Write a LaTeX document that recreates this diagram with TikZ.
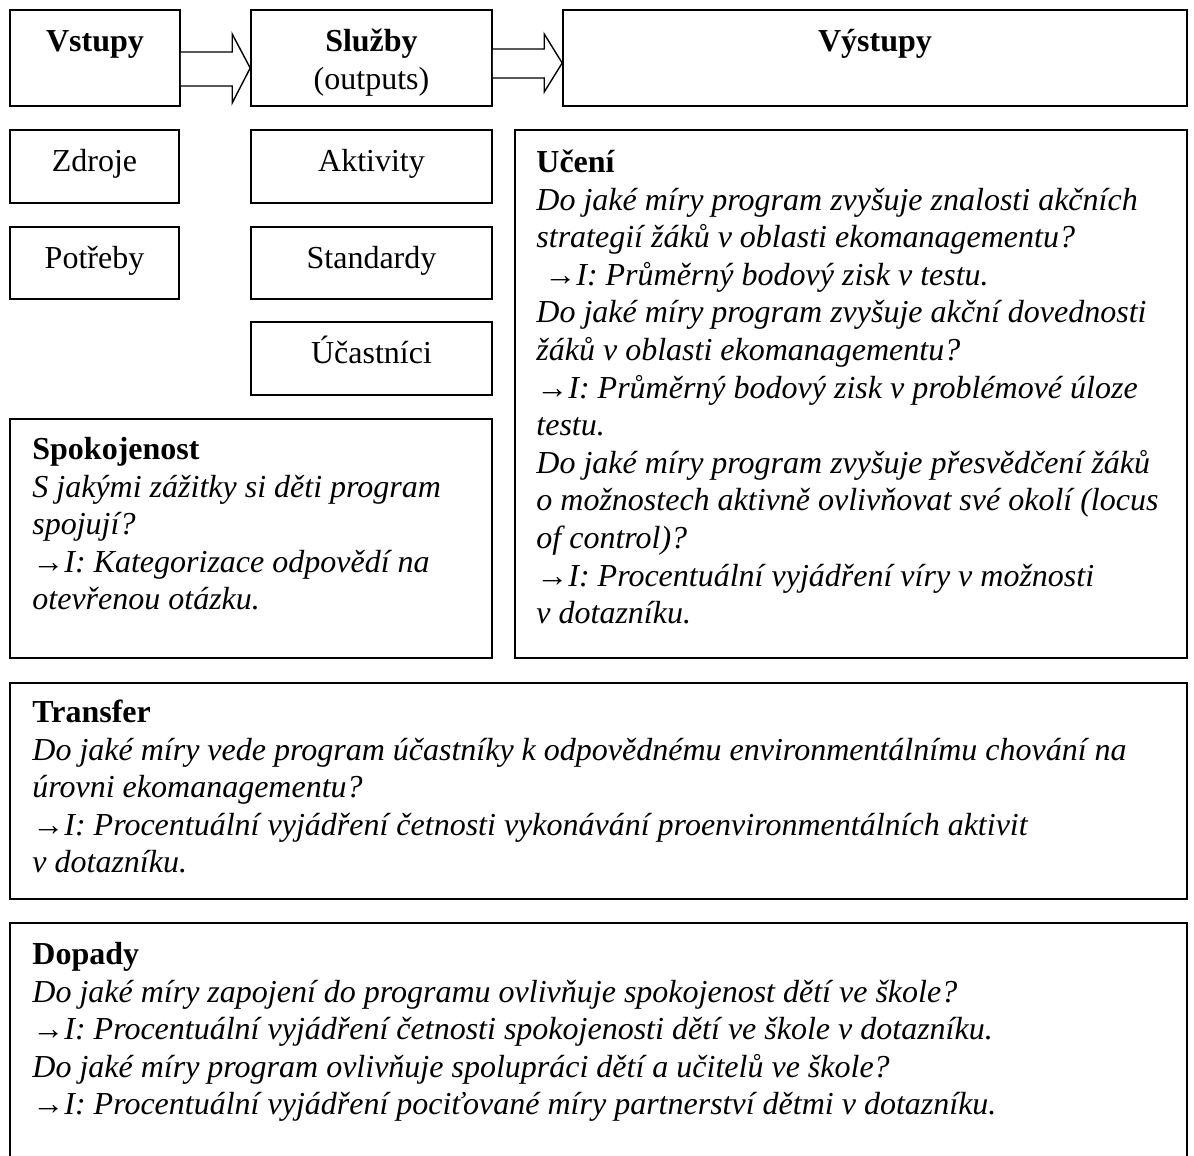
\documentclass[tikz,border=0pt]{standalone}
\usepackage{fontspec}
\setmainfont{Liberation Serif}
\usetikzlibrary{calc}
% zero-width strut fixing the distance from a node's top to its first baseline
\newcommand\tstrut{\rule{0pt}{30pt}}
% upright arrow in front of the indicator lines
\newcommand\indarr{{\upshape →}}

\begin{document}
\begin{tikzpicture}[x=1pt,y=-1pt,
  frame/.style={draw, line width=1.6pt, rectangle, inner sep=0pt},
  size/.style 2 args={minimum width=#1pt, minimum height=#2pt},
  basefont/.style={font=\fontsize{32}{37.6}\selectfont},
  smallbox/.style={frame, basefont, text height=20pt, text depth=10pt},
  head/.style={basefont, inner sep=0pt, anchor=north, align=center},
  body/.style={basefont, inner sep=0pt, anchor=north west, align=left},
  blockarrow/.style={draw, fill=white, line width=1.4pt, line join=miter},
]
\clip (0,0) rectangle (1194,1156);
\fill[white] (0,0) rectangle (1194,1156);

% top row
\node[frame, size={170}{96}] (vstupy)  at (95,58) {};
\node[frame, size={241}{96}] (sluzby)  at (371.5,58) {};
\node[frame, size={624}{96}] (vystupy) at (875,58) {};

\node[head] (tvstupy)  at ($(vstupy.north)+(0,12)$)  {\tstrut\textbf{Vstupy}};
\node[head] (tsluzby)  at ($(sluzby.north)+(0,12)$)  {\tstrut\textbf{Služby}\\(outputs)};
\node[head] (tvystupy) at ($(vystupy.north)+(0,12)$) {\tstrut\textbf{Výstupy}};

% block arrows between the top boxes
\draw[blockarrow]
  ($(vstupy.east)+(0,-6)$) -- ($(sluzby.west)+(-18,-6)$) -- ($(sluzby.west)+(-18,-24)$)
  -- ($(sluzby.west)+(0,10)$) -- ($(sluzby.west)+(-18,45)$) -- ($(sluzby.west)+(-18,28)$)
  -- ($(vstupy.east)+(0,28)$);
\draw[blockarrow]
  ($(sluzby.east)+(0,-9)$) -- ($(vystupy.west)+(-18,-9)$) -- ($(vystupy.west)+(-18,-24)$)
  -- ($(vystupy.west)+(0,5)$) -- ($(vystupy.west)+(-18,34)$) -- ($(vystupy.west)+(-18,20)$)
  -- ($(sluzby.east)+(0,20)$);

% small boxes
\node[smallbox, size={169}{73}] (zdroje)    at (94.5,166.5)  {Zdroje};
\node[smallbox, size={169}{72}] (potreby)   at (94.5,263)    {Potřeby};
\node[smallbox, size={241}{73}] (aktivity)  at (371.5,166.5) {Aktivity};
\node[smallbox, size={241}{72}] (standardy) at (371.5,263)   {Standardy};
\node[smallbox, size={241}{73}] (ucastnici) at (371.5,358.5) {Účastníci};

% large text boxes
\node[frame, size={482}{239}] (spokojenost) at (251,538.5) {};
\node[frame, size={672}{528}] (uceni)       at (851,394)   {};
\node[frame, size={1177}{216}] (transfer)   at (598.5,791) {};
\node[frame, size={1177}{260}] (dopady)     at (598.5,1053) {};

\node[body] (tuceni) at ($(uceni.north west)+(22,13)$) {\tstrut\textbf{Učení}\\
\textit{Do jaké míry program zvyšuje znalosti akčních}\\
\textit{strategií žáků v oblasti ekomanagementu?}\\
\ \indarr\textit{I: Průměrný bodový zisk v testu.}\\
\textit{Do jaké míry program zvyšuje akční dovednosti}\\
\textit{žáků v oblasti ekomanagementu?}\\
\indarr\textit{I: Průměrný bodový zisk v problémové úloze}\\
\textit{testu.}\\
\textit{Do jaké míry program zvyšuje přesvědčení žáků}\\
\textit{o možnostech aktivně ovlivňovat své okolí (locus}\\
\textit{of control)?}\\
\indarr\textit{I: Procentuální vyjádření víry v možnosti}\\
\textit{v dotazníku.}};

\node[body] (tspokojenost) at ($(spokojenost.north west)+(23,11)$) {\tstrut\textbf{Spokojenost}\\
\textit{S jakými zážitky si děti program}\\
\textit{spojují?}\\
\indarr\textit{I: Kategorizace odpovědí na}\\
\textit{otevřenou otázku.}};

\node[body] (ttransfer) at ($(transfer.north west)+(23,10)$) {\tstrut\textbf{Transfer}\\
\textit{Do jaké míry vede program účastníky k odpovědnému environmentálnímu chování na}\\
\textit{úrovni ekomanagementu?}\\
\indarr\textit{I: Procentuální vyjádření četnosti vykonávání proenvironmentálních aktivit}\\
\textit{v dotazníku.}};

\node[body] (tdopady) at ($(dopady.north west)+(23,12)$) {\tstrut\textbf{Dopady}\\
\textit{Do jaké míry zapojení do programu ovlivňuje spokojenost dětí ve škole?}\\
\indarr\textit{I: Procentuální vyjádření četnosti spokojenosti dětí ve škole v dotazníku.}\\
\textit{Do jaké míry program ovlivňuje spolupráci dětí a učitelů ve škole?}\\
\indarr\textit{I: Procentuální vyjádření pociťované míry partnerství dětmi v dotazníku.}};
\end{tikzpicture}
\end{document}
